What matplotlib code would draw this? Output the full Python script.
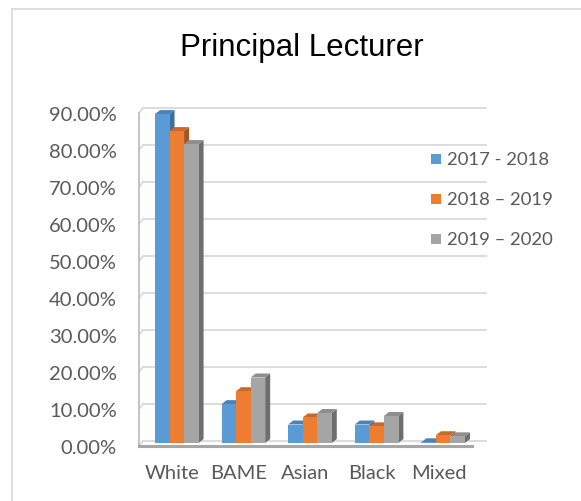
import numpy as np
import matplotlib
matplotlib.use("Agg")
import matplotlib.pyplot as plt
from matplotlib.lines import Line2D
from matplotlib.patches import Rectangle, Polygon

# staff share by ethnicity, principal lecturer grade
categories = ["White", "BAME", "Asian", "Black", "Mixed"]
series_names = ["2017 - 2018", "2018 \u2013 2019", "2019 \u2013 2020"]
y2017 = [0.889, 0.105, 0.050, 0.050, 0.002]
y2018 = [0.843, 0.140, 0.069, 0.045, 0.021]
y2019 = [0.808, 0.177, 0.081, 0.073, 0.018]
values = [y2017, y2018, y2019]

front_cols = ["#5B9BD5", "#ED7D31", "#A5A5A5"]
top_cols = ["#4A83B8", "#C9682A", "#8E8E8E"]
side_cols = ["#3E6F9C", "#A85620", "#6E6E6E"]
txt_col = "#595959"
font = "Lato"

W, H = 581, 502
fig = plt.figure(figsize=(W / 100, H / 100), dpi=100)

# axes placed in pixels: x from 139 to 472, y zero at 447, 90% at 114
ax_l, ax_b, ax_w, ax_h = 139, 447, 333, 333
ax = fig.add_axes([ax_l / W, (H - ax_b) / H, ax_w / W, ax_h / H])
ax.set_xlim(0, 5)
ax.set_ylim(0, 0.9)
for s in ax.spines.values():
    s.set_visible(False)

px_x = ax_w / 5.0
px_y = ax_h / 0.9

# back wall offset and bar offsets (pixels -> data)
bdx, bdy = 4 / px_x, 5 / px_y
fdx, fdy = 4.5 / px_x, 3 / px_y
ddx, ddy = 5 / px_x, 4 / px_y

ticks = np.arange(0, 0.91, 0.1)
for v in ticks:
    ax.plot([bdx, 5.0 + 14 / px_x], [v + bdy, v + bdy], color="#D9D9D9",
            lw=1.3, clip_on=False, zorder=1)
    ax.plot([0, bdx], [v, v + bdy], color="#D9D9D9", lw=1.3,
            clip_on=False, zorder=1)

# front axis lines
ax.plot([0, 0], [0, 0.9], color="#BFBFBF", lw=1.3, clip_on=False, zorder=2)
ax.plot([0, 5.0], [0, 0], color="#A6A6A6", lw=2.2, clip_on=False, zorder=2)

bw = 0.218
x = np.arange(len(categories)) + 0.5
for i, vals in enumerate(values):
    xs = x + (i - 1) * bw + fdx
    for j, v in enumerate(vals):
        x0, x1 = xs[j] - bw / 2, xs[j] + bw / 2
        z = 3 + i
        ax.add_patch(Polygon([(x1, fdy), (x1 + ddx, fdy + ddy),
                              (x1 + ddx, v + fdy + ddy), (x1, v + fdy)],
                             closed=True, facecolor=side_cols[i],
                             edgecolor="none", zorder=z, clip_on=False))
        ax.add_patch(Polygon([(x0, v + fdy), (x1, v + fdy),
                              (x1 + ddx, v + fdy + ddy),
                              (x0 + ddx, v + fdy + ddy)],
                             closed=True, facecolor=top_cols[i],
                             edgecolor="none", zorder=z, clip_on=False))
    ax.bar(xs, vals, width=bw, bottom=fdy, color=front_cols[i],
           zorder=3 + i, clip_on=False)

ax.set_yticks(ticks)
ax.set_yticklabels(["{:.2%}".format(t) for t in ticks])
ax.set_xticks(x)
ax.set_xticklabels(categories)
ax.tick_params(axis="y", length=0, pad=16, labelsize=14.5, labelcolor=txt_col)
ax.tick_params(axis="x", length=0, pad=13, labelsize=14.5, labelcolor=txt_col)
for lab in ax.get_xticklabels() + ax.get_yticklabels():
    lab.set_fontfamily(font)

fig.text(302 / W, 1 - 48 / H, "Principal Lecturer", ha="center",
         va="center", fontsize=22.5, family="Liberation Sans", color="black")

# legend
for i, name in enumerate(series_names):
    yc = 160 + 40 * i
    fig.add_artist(Rectangle((431 / W, 1 - (yc + 5) / H), 10 / W, 10 / H,
                             transform=fig.transFigure,
                             facecolor=front_cols[i], edgecolor="none"))
    fig.text(447 / W, 1 - yc / H, name, ha="left", va="center",
             fontsize=13.3, family=font, color=txt_col)

# chart border
fig.add_artist(Line2D([12 / W, 12 / W], [0, 1 - 10 / H], color="#D9D9D9",
                      lw=1.2, transform=fig.transFigure))
fig.add_artist(Line2D([12 / W, 1], [1 - 10 / H, 1 - 10 / H],
                      color="#D9D9D9", lw=1.2, transform=fig.transFigure))

fig.savefig("out.png", dpi=100)
